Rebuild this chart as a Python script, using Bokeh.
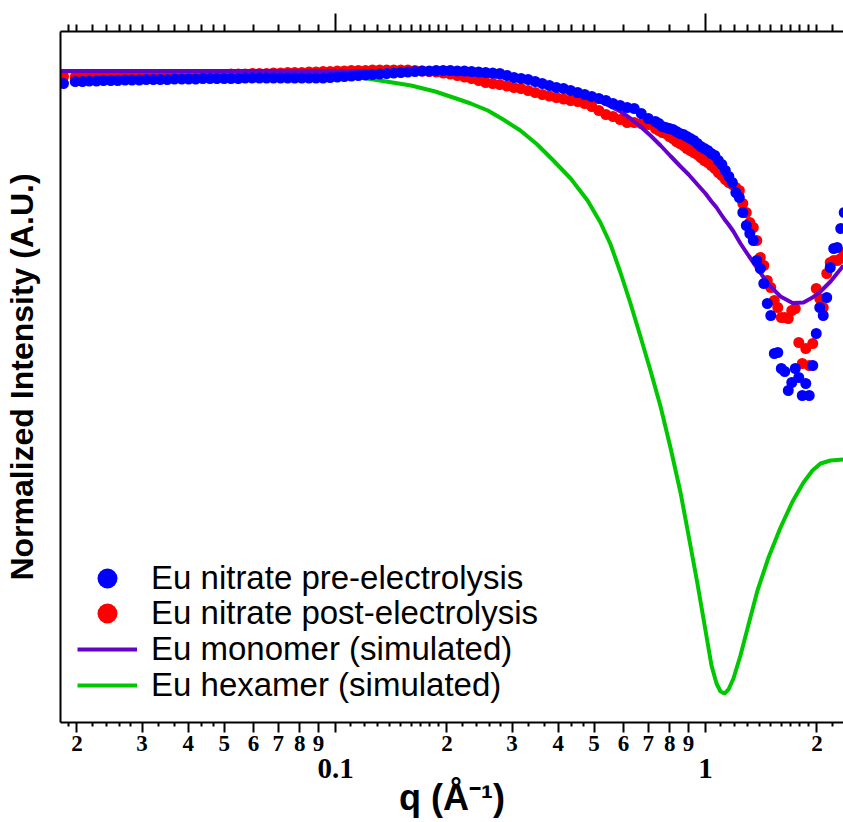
from bokeh.plotting import figure
from bokeh.models import LogAxis, FixedTicker, Legend, LegendItem, Range1d
from bokeh.embed import file_html
from bokeh.resources import INLINE

# ---------------- data ----------------
q_data = [0.0184, 0.0198, 0.0207, 0.0216, 0.0226, 0.0236, 0.0247, 0.0258, 0.0270, 0.0282,
          0.0295, 0.0308, 0.0322, 0.0336, 0.0351, 0.0367, 0.0384, 0.0401, 0.0419, 0.0438,
          0.0458, 0.0478, 0.0500, 0.0522, 0.0546, 0.0570, 0.0596, 0.0623, 0.0651, 0.0680,
          0.0711, 0.0743, 0.0776, 0.0811, 0.0848, 0.0886, 0.0926, 0.0967, 0.1011, 0.1056,
          0.1104, 0.1153, 0.1205, 0.1259, 0.1316, 0.1375, 0.1437, 0.1502, 0.1569, 0.1640,
          0.1714, 0.1791, 0.1871, 0.1955, 0.2043, 0.2135, 0.2231, 0.2332, 0.2437, 0.2546,
          0.2661, 0.2781, 0.2906, 0.3036, 0.3173, 0.3316, 0.3465, 0.3621, 0.3784, 0.3954,
          0.4132, 0.4318, 0.4512, 0.4715, 0.4927, 0.5149, 0.5381, 0.5623, 0.5876, 0.6140,
          0.6417, 0.6705, 0.7007, 0.7322, 0.7482, 0.7647, 0.7815, 0.7987, 0.8163, 0.8342,
          0.8526, 0.8713, 0.8905, 0.9101, 0.9301, 0.9506, 0.9715, 0.9929, 1.0147, 1.0370,
          1.0598, 1.0832, 1.1070, 1.1314, 1.1562, 1.1817, 1.2077, 1.2343, 1.2614, 1.2892,
          1.3175, 1.3465, 1.3761, 1.4064, 1.4374, 1.4690, 1.5013, 1.5343, 1.5681, 1.6026,
          1.6378, 1.6739, 1.7107, 1.7483, 1.7868, 1.8261, 1.8663, 1.9073, 1.9493, 1.9922,
          2.0360, 2.0808, 2.1266, 2.1734, 2.2212, 2.2700, 2.3200, 2.3710]

pre_electrolysis = [6.39, 6.41, 6.41, 6.415, 6.415, 6.42, 6.42, 6.42, 6.425, 6.425,
                    6.425, 6.43, 6.43, 6.43, 6.43, 6.435, 6.435, 6.435, 6.435, 6.44,
                    6.44, 6.44, 6.44, 6.44, 6.44, 6.445, 6.445, 6.445, 6.445, 6.445,
                    6.445, 6.445, 6.445, 6.445, 6.445, 6.445, 6.445, 6.45, 6.455, 6.46,
                    6.465, 6.47, 6.475, 6.48, 6.485, 6.49, 6.495, 6.50, 6.505, 6.51,
                    6.515, 6.515, 6.52, 6.52, 6.52, 6.515, 6.515, 6.51, 6.505, 6.50,
                    6.495, 6.49, 6.47, 6.45, 6.44, 6.43, 6.41, 6.39, 6.37, 6.35,
                    6.34, 6.32, 6.30, 6.28, 6.26, 6.24, 6.22, 6.19, 6.17, 6.15,
                    6.14, 6.09, 6.04, 6.01, 5.99, 5.96, 5.95, 5.94, 5.93, 5.91,
                    5.89, 5.88, 5.86, 5.84, 5.82, 5.79, 5.76, 5.74, 5.72, 5.69,
                    5.67, 5.62, 5.58, 5.52, 5.46, 5.40, 5.30, 5.25, 5.10, 4.97,
                    4.89, 4.82, 4.62, 4.54, 4.39, 4.19, 4.07, 3.69, 3.70, 3.54,
                    3.51, 3.32, 3.40, 3.54, 3.45, 3.27, 3.39, 3.27, 3.57, 3.89,
                    4.15, 4.07, 4.25, 4.55, 4.74, 4.75, 4.94, 5.10]

post_electrolysis = [6.46, 6.455, 6.455, 6.46, 6.46, 6.46, 6.46, 6.46, 6.465, 6.465,
                     6.465, 6.465, 6.47, 6.47, 6.47, 6.47, 6.475, 6.475, 6.475, 6.475,
                     6.48, 6.48, 6.48, 6.485, 6.485, 6.485, 6.49, 6.49, 6.49, 6.495,
                     6.495, 6.50, 6.50, 6.50, 6.505, 6.505, 6.51, 6.51, 6.515, 6.515,
                     6.52, 6.52, 6.52, 6.525, 6.525, 6.525, 6.525, 6.525, 6.525, 6.52,
                     6.515, 6.51, 6.505, 6.495, 6.485, 6.47, 6.455, 6.44, 6.42, 6.40,
                     6.39, 6.38, 6.365, 6.35, 6.34, 6.32, 6.30, 6.28, 6.265, 6.25,
                     6.235, 6.22, 6.21, 6.19, 6.16, 6.12, 6.08, 6.06, 6.03, 6.00,
                     6.00, 5.99, 5.98, 5.94, 5.92, 5.90, 5.89, 5.86, 5.84, 5.81,
                     5.79, 5.77, 5.74, 5.72, 5.70, 5.68, 5.65, 5.62, 5.60, 5.57,
                     5.54, 5.50, 5.47, 5.43, 5.40, 5.38, 5.35, 5.32, 5.19, 5.10,
                     5.00, 4.95, 4.82, 4.65, 4.57, 4.42, 4.35, 4.22, 4.15, 4.05,
                     4.05, 4.04, 4.12, 4.14, 3.80, 3.59, 3.74, 3.57, 3.79, 4.34,
                     4.24, 4.15, 4.49, 4.60, 4.62, 4.62, 4.64, 4.70]

q_model = [0.018, 0.03, 0.05, 0.08, 0.1, 0.117, 0.137, 0.16, 0.186, 0.208,
           0.232, 0.258, 0.284, 0.316, 0.351, 0.388, 0.432, 0.48, 0.52, 0.554,
           0.589, 0.627, 0.667, 0.71, 0.756, 0.804, 0.856, 0.9, 0.951, 1.0,
           1.038, 1.071, 1.098, 1.126, 1.154, 1.19, 1.243, 1.307, 1.382, 1.48,
           1.595, 1.719, 1.84, 1.946, 2.046, 2.177, 2.36]

monomer_sim = [6.515, 6.515, 6.515, 6.515, 6.515, 6.515, 6.513, 6.505, 6.50, 6.49,
               6.48, 6.465, 6.45, 6.43, 6.39, 6.355, 6.31, 6.26, 6.21, 6.16,
               6.11, 6.04, 5.96, 5.87, 5.77, 5.665, 5.56, 5.48, 5.38, 5.29,
               5.21, 5.15, 5.09, 5.03, 4.98, 4.91, 4.79, 4.67, 4.54, 4.38,
               4.26, 4.195, 4.20, 4.25, 4.31, 4.41, 4.57]

hexamer_sim = [6.51, 6.51, 6.51, 6.50, 6.47, 6.45, 6.41, 6.37, 6.31, 6.25,
               6.19, 6.12, 6.03, 5.92, 5.78, 5.62, 5.44, 5.22, 5.00, 4.78,
               4.50, 4.19, 3.86, 3.52, 3.16, 2.75, 2.30, 1.87, 1.39, 0.92,
               0.57, 0.39, 0.31, 0.29, 0.33, 0.44, 0.67, 0.98, 1.32, 1.65,
               1.95, 2.21, 2.40, 2.52, 2.59, 2.62, 2.63]

series_labels = ["Eu nitrate pre-electrolysis", "Eu nitrate post-electrolysis",
                 "Eu monomer (simulated)", "Eu hexamer (simulated)"]

# tick positions / labels
decade_ticks = [0.1, 1.0]
decade_labels = ["0.1", "1"]
mid_ticks = [0.02, 0.03, 0.04, 0.05, 0.06, 0.07, 0.08, 0.09,
             0.2, 0.3, 0.4, 0.5, 0.6, 0.7, 0.8, 0.9, 2.0]
mid_labels = ["2", "3", "4", "5", "6", "7", "8", "9",
              "2", "3", "4", "5", "6", "7", "8", "9", "2"]
sub_ticks = [0.019, 0.022, 0.024, 0.026, 0.028, 0.0333, 0.0367, 0.0433, 0.0467,
             0.11, 0.12, 0.13, 0.14, 0.15, 0.16, 0.17, 0.18, 0.19,
             0.22, 0.24, 0.26, 0.28, 0.333, 0.367, 0.433, 0.467,
             1.1, 1.2, 1.3, 1.4, 1.5, 1.6, 1.7, 1.8, 1.9, 2.2]

# ---------------- figure ----------------
p = figure(width=843, height=822, x_axis_type="log",
           x_range=Range1d(0.01806, 2.3603), y_range=Range1d(0, 6.91),
           output_backend="svg", toolbar_location=None,
           min_border_left=60, min_border_right=0,
           min_border_top=31, min_border_bottom=100)
p.outline_line_color = None
p.xgrid.visible = False
p.ygrid.visible = False

# bottom axis 1: minor labels 2..9
ax1 = p.xaxis[0]
ax1.ticker = FixedTicker(ticks=mid_ticks + decade_ticks, minor_ticks=sub_ticks)
ov1 = dict(zip(mid_ticks, mid_labels))
for t in decade_ticks:
    ov1[t] = ""
ax1.major_label_overrides = ov1
ax1.major_tick_out = 10
ax1.major_tick_in = 0
ax1.minor_tick_out = 4
ax1.minor_tick_in = 0
ax1.axis_line_width = 2
ax1.major_tick_line_width = 2
ax1.minor_tick_line_width = 2
ax1.major_label_standoff = 3
ax1.major_label_text_font = "Liberation Serif"
ax1.major_label_text_font_style = "bold"
ax1.major_label_text_font_size = "23px"
ax1.major_label_text_color = "black"

# bottom axis 2: decade labels + title
ax2 = LogAxis(ticker=FixedTicker(ticks=decade_ticks, minor_ticks=[]),
              major_label_overrides=dict(zip(decade_ticks, decade_labels)),
              axis_line_color=None, major_tick_line_color=None, minor_tick_line_color=None,
              major_tick_out=0, major_tick_in=0, minor_tick_out=0, minor_tick_in=0,
              major_label_standoff=5,
              major_label_text_font="Liberation Serif", major_label_text_font_style="bold",
              major_label_text_font_size="29px", major_label_text_color="black",
              axis_label="q (Å⁻¹)", axis_label_standoff=-4,
              axis_label_text_font="Liberation Sans", axis_label_text_font_style="bold",
              axis_label_text_font_size="36px", axis_label_text_color="black")
p.add_layout(ax2, "below")

# top mirror axis
ax_top = LogAxis(ticker=FixedTicker(ticks=decade_ticks, minor_ticks=mid_ticks + sub_ticks),
                 major_label_overrides={t: "" for t in decade_ticks},
                 major_tick_out=18, major_tick_in=0, minor_tick_out=7, minor_tick_in=0,
                 axis_line_width=2, major_tick_line_width=2, minor_tick_line_width=2,
                 major_label_standoff=0, major_label_text_font_size="0px")
p.add_layout(ax_top, "above")

# left axis: line + title only
ay = p.yaxis[0]
ay.ticker = FixedTicker(ticks=[])
ay.major_tick_out = 0
ay.major_tick_in = 0
ay.minor_tick_out = 0
ay.minor_tick_in = 0
ay.major_label_text_font_size = "0px"
ay.major_label_standoff = 0
ay.axis_line_width = 2
ay.axis_label = "Normalized Intensity (A.U.)"
ay.axis_label_standoff = 21
ay.axis_label_text_font = "Liberation Sans"
ay.axis_label_text_font_style = "bold"
ay.axis_label_text_font_size = "32px"
ay.axis_label_text_color = "black"

# ---------------- glyphs ----------------
r_hex = p.line(q_model, hexamer_sim, line_color="#00C800", line_width=4)
r_post = p.scatter(q_data, post_electrolysis, size=11, fill_color="#FF0000", line_color=None)
r_mono = p.line(q_model, monomer_sim, line_color="#6600CC", line_width=4)
r_pre = p.scatter(q_data, pre_electrolysis, size=11, fill_color="#0000FF", line_color=None)

# one legend box per entry so rows can sit closer than the marker box height
renderers = [r_pre, r_post, r_mono, r_hex]
legend_y = [119, 84, 48, 12]
for lab, ren, ly in zip(series_labels, renderers, legend_y):
    lg = Legend(items=[LegendItem(label=lab, renderers=[ren])],
                location=(17, ly), orientation="vertical",
                glyph_width=60, glyph_height=50, spacing=0,
                padding=0, margin=0, label_standoff=14,
                border_line_color=None, background_fill_alpha=0,
                label_text_font="Liberation Sans", label_text_font_size="33px",
                label_text_color="black")
    p.add_layout(lg)

open("out.html", "w").write(file_html(p, INLINE))
